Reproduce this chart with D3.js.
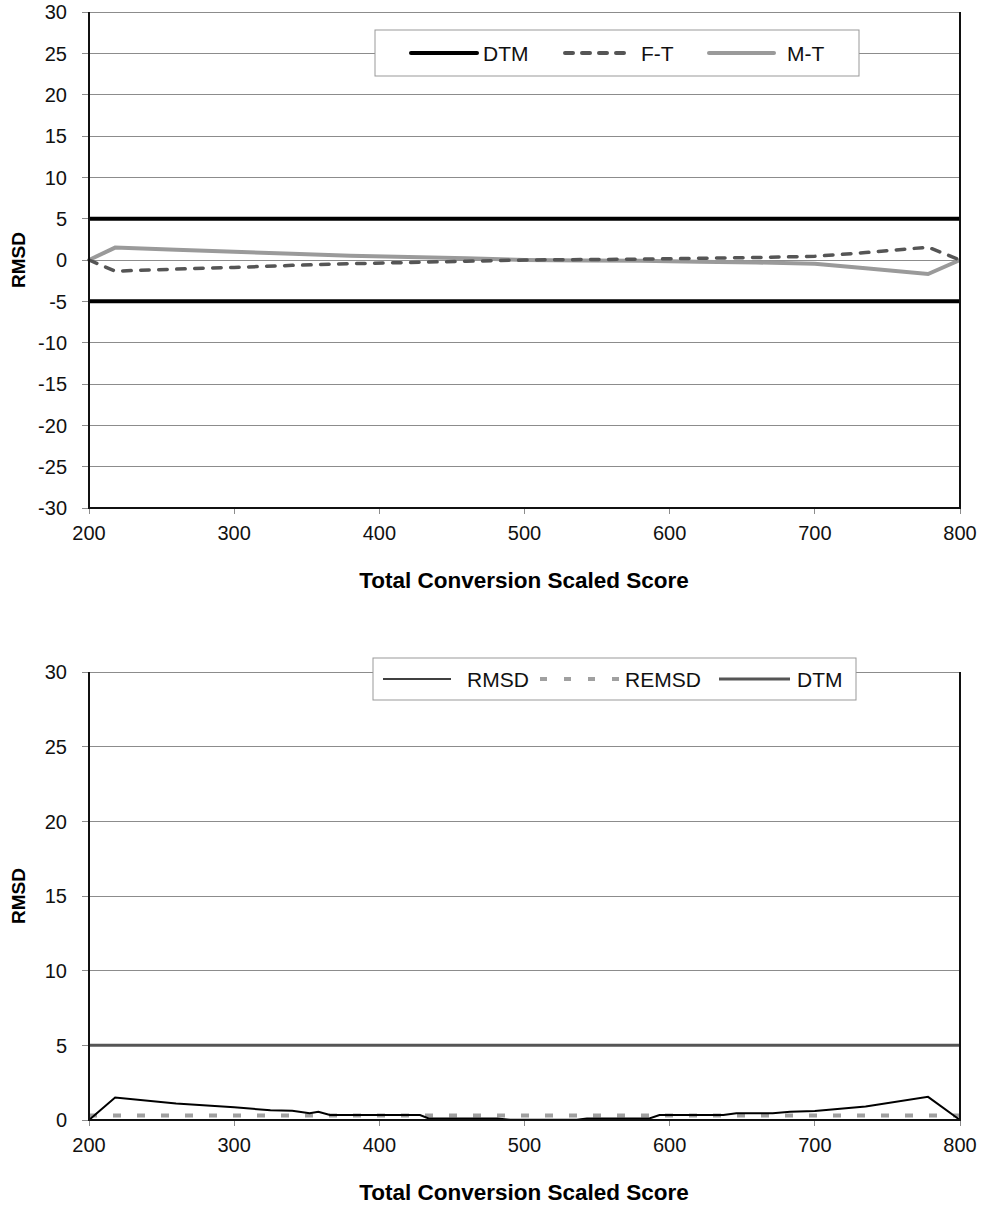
<!DOCTYPE html>
<html><head><meta charset="utf-8">
<script src="https://cdn.jsdelivr.net/npm/d3@7"></script>
<style>body{margin:0;background:#fff;} text{font-family:"Liberation Sans",Arial,sans-serif;}</style>
</head><body><svg id="c" width="986" height="1211"></svg>
<script>
// ---- data ----
const xTicks = [200, 300, 400, 500, 600, 700, 800];
const yTicksTop = [30, 25, 20, 15, 10, 5, 0, -5, -10, -15, -20, -25, -30];
const yTicksBottom = [0, 5, 10, 15, 20, 25, 30];

const scoreTop = [200, 218, 260, 300, 340, 380, 420, 460, 500, 540, 580, 620, 660, 700, 735, 778, 800];
const ftValues = [0, -1.35, -1.1, -0.9, -0.65, -0.45, -0.3, -0.15, 0, 0.05, 0.1, 0.2, 0.3, 0.45, 0.9, 1.55, 0];
const mtValues = [0, 1.5, 1.25, 1.0, 0.75, 0.5, 0.35, 0.2, 0, -0.05, -0.1, -0.2, -0.3, -0.45, -1.0, -1.7, 0];
const dtmUpper = 5, dtmLower = -5;

const scoreRmsd = [200, 218, 260, 300, 325, 340, 352, 358, 366, 428, 434, 481, 490, 536, 543, 586, 593, 637, 646, 671, 683, 700, 735, 778, 800];
const rmsdValues = [0, 1.5, 1.1, 0.85, 0.65, 0.62, 0.45, 0.55, 0.33, 0.33, 0.1, 0.1, 0.02, 0.02, 0.1, 0.1, 0.33, 0.33, 0.45, 0.45, 0.56, 0.6, 0.9, 1.55, 0];
const remsdValue = 0.3;
const dtmBottom = 5;

// ---- drawing ----
const svg = d3.select("#c");
const L = 89, R = 960;

function chart(cfg) {
  const g = svg.append("g");
  const x = d3.scaleLinear().domain([200, 800]).range([L, R]);
  const y = d3.scaleLinear().domain(cfg.ydom).range([cfg.bottom, cfg.top]);
  // gridlines
  g.append("g").selectAll("line").data(cfg.yticks).join("line")
    .attr("x1", L - 7).attr("x2", R).attr("y1", d => y(d)).attr("y2", d => y(d))
    .attr("stroke", "#8c8c8c").attr("stroke-width", 1).attr("shape-rendering", "crispEdges");
  // y tick labels
  g.append("g").selectAll("text").data(cfg.yticks).join("text")
    .attr("x", 67).attr("y", d => y(d)).attr("dy", "0.36em").attr("text-anchor", "end")
    .attr("font-size", 20).attr("fill", "#111").text(d => d);
  // x axis ticks
  g.append("g").selectAll("line").data(xTicks).join("line")
    .attr("x1", d => x(d)).attr("x2", d => x(d)).attr("y1", cfg.bottom).attr("y2", cfg.bottom + 6)
    .attr("stroke", "#8c8c8c").attr("shape-rendering", "crispEdges");
  g.append("g").selectAll("text").data(xTicks).join("text")
    .attr("x", d => x(d)).attr("y", cfg.bottom + 25).attr("dy", "0.36em").attr("text-anchor", "middle")
    .attr("font-size", 20).attr("fill", "#111").text(d => d);
  // titles
  g.append("text").attr("x", 524).attr("y", cfg.bottom + 72).attr("dy", "0.36em")
    .attr("text-anchor", "middle").attr("font-size", 22.5).attr("font-weight", "bold").text("Total Conversion Scaled Score");
  g.append("text").attr("transform", `translate(18,${y(cfg.ymid)}) rotate(-90)`).attr("dy", "0.36em")
    .attr("text-anchor", "middle").attr("font-size", 19).attr("font-weight", "bold").text("RMSD");
  // series
  cfg.series(g, x, y);
  // frame
  g.append("path").attr("d", `M${L},${cfg.top}V${cfg.bottom}H${R}V${cfg.top}`)
    .attr("fill", "none").attr("stroke", "#111").attr("stroke-width", 2);
  // legend
  const lg = g.append("g");
  lg.append("rect").attr("x", cfg.lx).attr("y", cfg.ly).attr("width", cfg.lw).attr("height", cfg.lh)
    .attr("fill", "#fff").attr("stroke", "#999").attr("stroke-width", 1);
  cfg.legend.forEach(it => {
    lg.append("line").attr("x1", it.x1).attr("x2", it.x2).attr("y1", cfg.ly + cfg.lh / 2).attr("y2", cfg.ly + cfg.lh / 2)
      .attr("stroke", it.color).attr("stroke-width", it.w).attr("stroke-dasharray", it.dash || null)
      .attr("stroke-linecap", it.cap || "butt");
    lg.append("text").attr("x", it.tx).attr("y", cfg.ly + cfg.lh / 2).attr("dy", "0.36em")
      .attr("font-size", 21).attr("fill", "#111").text(it.label);
  });
}

const line = (x, y, xs) => d3.line().x((d, i) => x(xs[i])).y(d => y(d));

chart({
  ydom: [-30, 30], top: 12, bottom: 508, yticks: yTicksTop, ymid: 0,
  series: (g, x, y) => {
    g.append("path").datum(mtValues).attr("d", line(x, y, scoreTop))
      .attr("fill", "none").attr("stroke", "#9a9a9a").attr("stroke-width", 4);
    g.append("path").datum(ftValues).attr("d", line(x, y, scoreTop))
      .attr("fill", "none").attr("stroke", "#555").attr("stroke-width", 3.5)
      .attr("stroke-dasharray", "8.5,9.5").attr("stroke-linecap", "round");
    [dtmUpper, dtmLower].forEach(v => {
      g.append("line").attr("x1", x(200)).attr("x2", x(800)).attr("y1", y(v)).attr("y2", y(v))
        .attr("stroke", "#000").attr("stroke-width", 4);
    });
  },
  lx: 375, ly: 30, lw: 484, lh: 46,
  legend: [
    {x1: 411, x2: 477, color: "#000", w: 4, cap: "round", label: "DTM", tx: 483},
    {x1: 565, x2: 627, color: "#555", w: 4, dash: "8,9", cap: "round", label: "F-T", tx: 641},
    {x1: 709, x2: 774, color: "#9a9a9a", w: 4, cap: "round", label: "M-T", tx: 787}
  ]
});

chart({
  ydom: [0, 30], top: 672, bottom: 1120, yticks: yTicksBottom, ymid: 15,
  series: (g, x, y) => {
    g.append("line").attr("x1", x(200)).attr("x2", x(800)).attr("y1", y(remsdValue)).attr("y2", y(remsdValue))
      .attr("stroke", "#a0a0a0").attr("stroke-width", 4).attr("stroke-dasharray", "8,16");
    g.append("path").datum(rmsdValues).attr("d", line(x, y, scoreRmsd))
      .attr("fill", "none").attr("stroke", "#000").attr("stroke-width", 2);
    g.append("line").attr("x1", x(200)).attr("x2", x(800)).attr("y1", y(dtmBottom)).attr("y2", y(dtmBottom))
      .attr("stroke", "#555").attr("stroke-width", 3);
  },
  lx: 373, ly: 658, lw: 483, lh: 42,
  legend: [
    {x1: 383, x2: 451, color: "#000", w: 1.5, label: "RMSD", tx: 467},
    {x1: 540, x2: 622, color: "#a0a0a0", w: 4, dash: "7,17", label: "REMSD", tx: 625},
    {x1: 719, x2: 790, color: "#555", w: 3, label: "DTM", tx: 797}
  ]
});
</script></body></html>
